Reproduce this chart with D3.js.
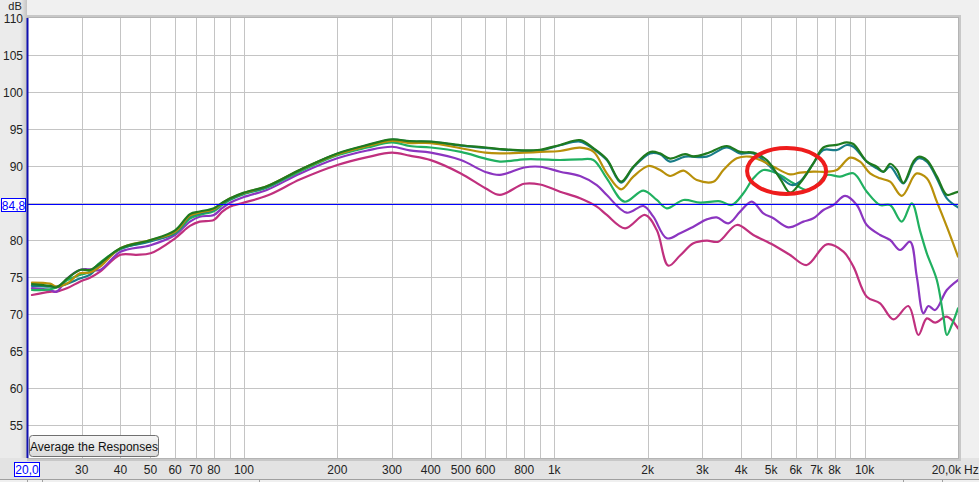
<!DOCTYPE html>
<html><head><meta charset="utf-8">
<script src="https://cdn.jsdelivr.net/npm/d3@7"></script>
<style>
body{margin:0;background:#f0f0f0;overflow:hidden}
svg{display:block;font-family:"Liberation Sans",Arial,sans-serif}
</style>
</head><body><svg id="c" width="979" height="482"></svg>
<script>
// ---------- DATA ----------
const yTicks = [55,60,65,70,75,80,85,90,95,100,105,110];
const yLabelValues = [55,60,65,70,75,80,90,95,100,105,110]; // 85 is covered by the 84,8 marker box
const xGrid = [30,40,50,60,70,80,90,100,200,300,400,500,600,700,800,900,1000,2000,3000,4000,5000,6000,7000,8000,9000,10000];
const xLabelValues = [30,40,50,60,70,80,100,200,300,400,500,600,800,1000,2000,3000,4000,5000,6000,7000,8000,10000];
const xLabelTexts  = ["30","40","50","60","70","80","100","200","300","400","500","600","800","1k","2k","3k","4k","5k","6k","7k","8k","10k"];
const refLevel = 84.8;
const seriesNames = ["magenta","purple","mediumGreen","teal","gold","darkGreen"];
const seriesColors = ["#c0307e","#8b35c0","#20b060","#187c88","#b8900a","#1f7a1f"];
// annotation ellipse: frequency span and dB span
const ellipseHz = [4120, 7630];
const ellipseDb = [85.95, 92.7];

const darkGreen = [[20.75,74.05],[23.7,73.8],[24.9,73.6],[27,74.8],[29.6,75.95],[31.9,75.95],[34.4,76.85],[40,78.9],[50,80.0],[60,81.3],[67,83.5],[72,83.85],[80,84.3],[85,85.0],[90,85.6],[100,86.4],[119,87.3],[152,89.5],[200,91.7],[250,92.85],[300,93.6],[342,93.35],[400,93.3],[500,92.8],[600,92.5],[668,92.3],[800,92.1],[900,92.2],[1044,92.84],[1211,93.5],[1337,92.4],[1477,90.9],[1642,87.9],[1798,89.9],[2036,91.9],[2192,91.7],[2362,91.0],[2640,91.6],[2808,91.3],[3101,91.7],[3597,92.7],[3972,91.9],[4382,91.8],[4841,90.8],[5342,88.3],[5752,86.4],[6196,87.7],[6839,90.35],[7367,92.5],[8137,92.85],[8763,93.2],[9204,92.97],[10165,90.6],[10948,89.9],[11500,89.2],[12084,90.3],[12699,89.5],[13335,87.7],[14366,90.6],[14910,91.25],[15869,90.8],[17092,88.6],[18408,86.1],[19330,86.3],[20000,86.5]];

const teal = [[20.75,73.8],[23.7,73.7],[24.9,73.7],[27,74.1],[29.6,74.8],[31.9,75.3],[34.4,76.6],[40,78.8],[50,79.8],[60,81.0],[67,83.2],[72,83.6],[80,84.1],[85,84.9],[90,85.5],[100,86.3],[119,87.2],[152,89.5],[200,91.65],[250,92.8],[300,93.55],[342,93.3],[400,93.25],[500,92.75],[600,92.45],[668,92.25],[800,92.05],[900,92.1],[1044,92.8],[1211,93.3],[1337,92.3],[1477,90.8],[1642,87.75],[1798,89.8],[2036,91.7],[2192,91.6],[2362,90.6],[2640,91.26],[3101,91.26],[3597,92.52],[3972,91.71],[4382,91.71],[4841,90.36],[5342,88.56],[5826,87.43],[6196,87.88],[6839,90.36],[7367,92.16],[8137,92.16],[8763,92.84],[9204,92.61],[10165,90.59],[10948,89.68],[11500,89.23],[12084,89.91],[13335,87.66],[14366,90.36],[14910,91.04],[15869,90.59],[17092,88.33],[18408,85.63],[20000,84.41]];

const gold = [[20.75,74.25],[23.7,74.1],[24.9,73.7],[27,74.15],[29.6,75.5],[31.9,75.6],[34.4,76.4],[40,78.9],[50,80.0],[60,81.1],[67,83.3],[72,83.7],[80,84.15],[85,84.95],[90,85.6],[100,86.35],[119,87.3],[152,89.5],[200,91.6],[250,92.7],[300,93.4],[342,93.1],[400,93.1],[500,92.4],[600,91.8],[668,91.7],[800,91.8],[900,91.9],[1044,92.03],[1211,92.48],[1337,91.94],[1477,89.01],[1642,86.85],[1798,88.56],[2011,90.0],[2192,89.46],[2362,88.65],[2608,89.37],[2880,88.11],[3257,87.88],[3508,89.46],[3874,91.04],[4276,91.26],[4606,90.81],[5085,89.91],[5752,88.87],[6196,89.10],[6839,89.23],[7554,89.23],[8137,89.46],[8982,91.13],[9671,90.59],[10417,89.01],[11219,88.33],[12084,87.88],[13181,85.95],[14366,88.56],[14731,89.01],[15869,88.33],[17092,85.18],[18408,81.8],[20000,77.75]];

const mediumGreen = [[20.75,73.24],[23.7,73.33],[24.9,73.6],[27,74.6],[29.6,75.27],[31.9,75.72],[34.4,76.94],[40,78.8],[50,79.9],[60,80.9],[67,82.9],[72,83.4],[80,83.9],[85,84.7],[90,85.4],[100,86.2],[119,87.1],[152,89.3],[200,91.45],[250,92.5],[300,93.2],[342,92.7],[400,92.5],[500,91.9],[600,91.0],[668,90.6],[800,90.9],[900,90.9],[1044,90.81],[1211,90.9],[1337,90.81],[1477,88.33],[1683,85.18],[1938,86.67],[2140,85.41],[2304,84.28],[2608,85.41],[2951,85.05],[3424,85.23],[3733,84.73],[4070,86.31],[4382,88.33],[4720,89.46],[5212,89.01],[5896,87.66],[6512,86.76],[7015,87.43],[7554,88.78],[8337,88.56],[9204,89.01],[10165,86.53],[11219,84.73],[12084,84.73],[13181,82.48],[14195,84.95],[15100,81.2],[15869,78.2],[17092,74.6],[17952,69.64],[18408,67.16],[19099,68.51],[20000,70.77]];

const purple = [[20.75,73.5],[23.7,73.24],[24.9,73.02],[27,74.82],[29.6,75.95],[31.9,76.04],[34.4,75.95],[40,78.4],[50,79.3],[60,80.68],[67,82.48],[72,83.15],[80,83.38],[85,84.3],[90,85.0],[100,85.8],[119,86.8],[152,89.0],[200,91.04],[250,92.1],[300,92.6],[342,92.1],[400,91.8],[500,90.8],[600,89.2],[668,88.8],[800,89.8],[900,89.9],[1044,89.23],[1211,88.65],[1371,87.43],[1477,86.08],[1712,83.69],[1938,84.59],[2086,83.15],[2304,80.23],[2544,80.9],[2808,81.8],[3101,82.79],[3340,83.06],[3640,82.25],[3972,83.83],[4330,85.18],[4720,83.6],[5085,82.93],[5680,81.71],[6350,82.48],[6839,82.93],[7367,84.05],[7934,84.73],[8654,85.95],[9438,84.73],[10165,82.03],[11219,80.68],[12084,80.0],[13013,78.65],[14016,79.77],[14731,75.05],[15475,70.09],[16058,71.08],[16878,70.54],[18408,73.24],[20000,74.59]];

const magenta = [[20.75,72.57],[23.7,73.0],[24.9,73.02],[27,73.5],[29.6,74.37],[31.9,74.9],[34.4,75.72],[40,78.0],[45,78.0],[50,78.2],[60,80.23],[67,81.9],[72,82.48],[80,82.7],[85,83.8],[90,84.5],[100,85.05],[119,86.0],[152,88.2],[200,90.14],[250,91.2],[300,91.8],[342,91.4],[400,90.8],[500,89.0],[600,87.0],[668,86.1],[800,87.6],[900,87.5],[1044,86.53],[1211,85.63],[1371,84.5],[1477,83.38],[1691,81.58],[1962,83.38],[2140,81.35],[2332,76.53],[2544,77.9],[2808,79.55],[3101,79.91],[3380,79.77],[3874,82.03],[4382,80.68],[5085,79.32],[5752,77.97],[6512,76.62],[7554,79.41],[8546,78.42],[9204,76.4],[10165,72.34],[11219,71.44],[12382,69.28],[13843,71.08],[14910,67.16],[15869,69.41],[16878,68.83],[18408,69.64],[20000,68.06]];

const seriesData = {magenta, purple, mediumGreen, teal, gold, darkGreen};

// ---------- DRAW ----------
const svg = d3.select("#c");
const L = 27, R = 958, T = 18, B = 458;
const x = d3.scaleLog().domain([20, 20000]).range([L, R]);
const y = d3.scaleLinear().domain([110 - (B - T) / 7.4, 110]).range([B, T]);

const defs = svg.append("defs");
const lg = defs.append("linearGradient").attr("id","leftShade").attr("x1","0").attr("x2","1").attr("y1","0").attr("y2","0");
lg.append("stop").attr("offset","0").attr("stop-color","#ececec");
lg.append("stop").attr("offset","1").attr("stop-color","#c4c4c4");
const bg = defs.append("linearGradient").attr("id","btn").attr("x1","0").attr("x2","0").attr("y1","0").attr("y2","1");
bg.append("stop").attr("offset","0").attr("stop-color","#f6f6f6");
bg.append("stop").attr("offset","1").attr("stop-color","#dadada");
defs.append("clipPath").attr("id","plotClip").append("rect")
  .attr("x", L).attr("y", T).attr("width", R - L).attr("height", B - T);

// page background
svg.append("rect").attr("width",979).attr("height",482).attr("fill","#f0f0f0");
svg.append("rect").attr("x",0).attr("y",0).attr("width",L).attr("height",B).attr("fill","#ebebeb");
svg.append("rect").attr("x",20).attr("y",0).attr("width",L-20).attr("height",B+3).attr("fill","url(#leftShade)");
// x label strip
svg.append("rect").attr("x",0).attr("y",B).attr("width",979).attr("height",21).attr("fill","#e3e3e3");
svg.append("line").attr("x1",0).attr("x2",979).attr("y1",479.5).attr("y2",479.5).attr("stroke","#a0a0a0");
[27,42,259,903,942].forEach(p => svg.append("line").attr("x1",p+0.5).attr("x2",p+0.5).attr("y1",479).attr("y2",482).attr("stroke","#a0a0a0"));

// plot frame shadow
svg.append("rect").attr("x",L).attr("y",T-3).attr("width",R-L+3).attr("height",B-T+6).attr("fill","#c8c8c8");
svg.append("rect").attr("x",L).attr("y",T-1).attr("width",R-L+1).attr("height",B-T+2).attr("fill","#b4b4b4");
svg.append("rect").attr("x",L).attr("y",T).attr("width",R-L).attr("height",B-T).attr("fill","#ffffff");

// grid
const g = svg.append("g");
g.selectAll(".hg").data(yTicks.filter(v => v < 110)).join("line")
  .attr("x1", L).attr("x2", R)
  .attr("y1", d => Math.round(y(d)) + 0.5).attr("y2", d => Math.round(y(d)) + 0.5)
  .attr("stroke", "#c4c4c4").attr("stroke-width", 1);
g.selectAll(".vg").data(xGrid).join("line")
  .attr("x1", d => Math.round(x(d)) + 0.5).attr("x2", d => Math.round(x(d)) + 0.5)
  .attr("y1", T).attr("y2", B)
  .attr("stroke", "#c4c4c4").attr("stroke-width", 1);

// y labels
svg.append("text").attr("x", 15).attr("y", 10).attr("text-anchor","middle").attr("font-size",11).attr("fill","#222").text("dB");
svg.selectAll(".yl").data(yLabelValues).join("text")
  .attr("x", 23).attr("y", d => y(d) + 4.5)
  .attr("text-anchor", "end").attr("font-size", 12).attr("fill", "#222")
  .text(d => d);

// x labels
svg.selectAll(".xl").data(xLabelValues).join("text")
  .attr("x", d => x(d)).attr("y", 474)
  .attr("text-anchor", "middle").attr("font-size", 12).attr("fill", "#222")
  .text((d, i) => xLabelTexts[i]);
svg.append("text").attr("x", 961).attr("y", 474).attr("text-anchor","end").attr("font-size",12).attr("fill","#222").text("20,0k");
svg.append("text").attr("x", 964).attr("y", 474).attr("text-anchor","start").attr("font-size",12).attr("fill","#222").text("Hz");

// curves
const line = d3.line().x(d => x(d[0])).y(d => y(d[1])).curve(d3.curveCatmullRom.alpha(0.5));
const cg = svg.append("g").attr("clip-path","url(#plotClip)");
seriesNames.forEach((name, i) => {
  cg.append("path").datum(seriesData[name])
    .attr("d", line).attr("fill","none")
    .attr("stroke", seriesColors[i]).attr("stroke-width", 2.2)
    .attr("stroke-linejoin","round").attr("stroke-linecap","round");
});

// reference level line
svg.append("line").attr("x1", L).attr("x2", R)
  .attr("y1", Math.round(y(refLevel)) + 0.5).attr("y2", Math.round(y(refLevel)) + 0.5)
  .attr("stroke", "#0000ff").attr("stroke-width", 1);

// left blue edge
svg.append("line").attr("x1", L + 0.5).attr("x2", L + 0.5).attr("y1", T).attr("y2", B)
  .attr("stroke", "#1010b0").attr("stroke-width", 2);

// red ellipse annotation
const ex0 = x(ellipseHz[0]), ex1 = x(ellipseHz[1]);
const ey0 = y(ellipseDb[1]), ey1 = y(ellipseDb[0]);
svg.append("ellipse")
  .attr("cx", (ex0 + ex1) / 2).attr("cy", (ey0 + ey1) / 2)
  .attr("rx", (ex1 - ex0) / 2 - 2).attr("ry", (ey1 - ey0) / 2 - 2)
  .attr("fill","none").attr("stroke","#ee1c1c").attr("stroke-width", 4);

// value boxes
function valueBox(cx, cy, w, h, txt) {
  svg.append("rect").attr("x", cx).attr("y", cy).attr("width", w).attr("height", h)
    .attr("fill","#ffffff").attr("stroke","#0000ff").attr("stroke-width",1);
  svg.append("text").attr("x", cx + w / 2).attr("y", cy + h / 2 + 4.5)
    .attr("text-anchor","middle").attr("font-size",12).attr("fill","#0000ff").text(txt);
}
valueBox(1.5, Math.round(y(refLevel)) - 5.5, 24, 13, "84,8");
valueBox(14.5, 462.5, 25, 14, "20,0");

// button
svg.append("rect").attr("x", 29.5).attr("y", 435.5).attr("width", 129).attr("height", 21).attr("rx", 3)
  .attr("fill","url(#btn)").attr("stroke","#707070").attr("stroke-width",1);
svg.append("text").attr("x", 94).attr("y", 450.5).attr("text-anchor","middle").attr("font-size",12).attr("fill","#111")
  .text("Average the Responses");
</script>
</body></html>
